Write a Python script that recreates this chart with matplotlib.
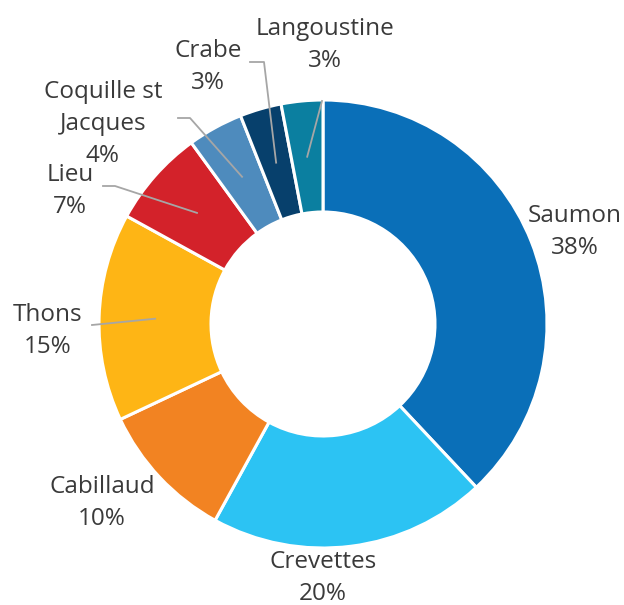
import matplotlib.pyplot as plt
import numpy as np

# data
labels = ["Saumon", "Crevettes", "Cabillaud", "Thons", "Lieu",
          "Coquille st\nJacques", "Crabe", "Langoustine"]
shares = [38, 20, 10, 15, 7, 4, 3, 3]
colors = ["#0a6fb8", "#2cc3f3", "#f28322", "#feb515", "#d3222a",
          "#4e8bbd", "#07406c", "#0b7fa0"]

plt.rcParams['font.family'] = ['Open Sans', 'DejaVu Sans']

W, H = 624, 605
cx, cy, R = 323, 324, 224  # pixel centre and outer radius

fig = plt.figure(figsize=(W / 100, H / 100), dpi=100)
ax = fig.add_axes([(cx - R) / W, (H - cy - R) / H, 2 * R / W, 2 * R / H])

wedges, _ = ax.pie(shares, colors=colors, startangle=90, counterclock=False,
                   radius=1, wedgeprops=dict(width=0.5, edgecolor='white', linewidth=2.2))
ax.set_xlim(-1, 1)
ax.set_ylim(-1, 1)
ax.set_aspect('equal')
ax.axis('off')


def px(x, y):
    # pixel coords of the picture -> data coords
    return (x - cx) / R, (cy - y) / R


# label positions (pixel centre of the text block)
label_pos = {
    "Saumon": (575, 232),
    "Crevettes": (323, 578),
    "Cabillaud": (102, 503),
    "Thons": (48, 331),
    "Lieu": (70, 191),
    "Coquille st\nJacques": (103, 124),
    "Crabe": (208, 67),
    "Langoustine": (325, 45),
}
# leader lines: start (near the label) and optional elbow
leaders = {
    "Thons": [(92, 325)],
    "Lieu": [(103, 186), (115, 186)],
    "Coquille st\nJacques": [(178, 118), (190, 118)],
    "Crabe": [(250, 62), (264, 62)],
    "Langoustine": [(322, 101)],
}

for w, lab, val in zip(wedges, labels, shares):
    x, y = px(*label_pos[lab])
    ax.text(x, y, f"{lab}\n{val}%", ha='center', va='center', fontsize=17.5,
            color='#3a3a3a', linespacing=1.42, clip_on=False)
    if lab in leaders:
        mid = np.deg2rad((w.theta1 + w.theta2) / 2)
        ex, ey = 0.75 * np.cos(mid), 0.75 * np.sin(mid)
        pts = [px(*p) for p in leaders[lab]] + [(ex, ey)]
        xs, ys = zip(*pts)
        ax.plot(xs, ys, color='#a6a6a6', lw=1.3, clip_on=False, zorder=5)

fig.savefig("out.png", dpi=100)
